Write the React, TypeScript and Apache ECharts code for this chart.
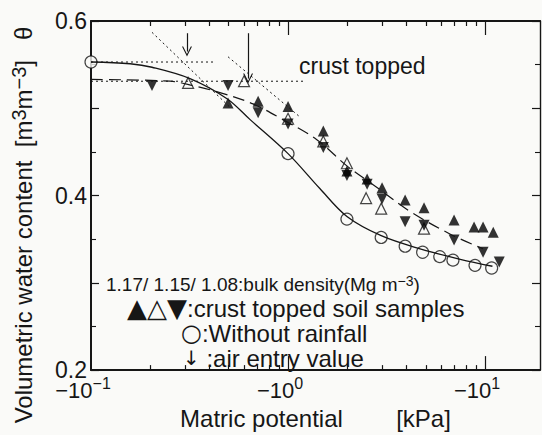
import React, { useEffect, useRef } from 'react';
import * as echarts from 'echarts';

const FONT = '"Liberation Sans", Arial, Helvetica, sans-serif';
const SYMFONT = '"DejaVu Sans", "Liberation Sans", sans-serif';
const INK = '#161616';
const BG = '#fafaf8';

// |matric potential| in kPa (axis shows -10^k) and volumetric water content θ
const rainfreeX = [0.1, 1.0, 1.99, 2.97, 3.93, 4.82, 5.89, 6.87, 8.89, 10.8];
const rainfreeY = [0.553, 0.448, 0.373, 0.352, 0.342, 0.335, 0.33, 0.326, 0.32, 0.317];

const bd117X = [0.496, 0.705, 1.0, 1.51, 1.99, 2.52, 3.0, 3.93, 4.9, 6.96, 8.79, 9.77, 11.0];
const bd117Y = [0.506, 0.508, 0.502, 0.474, 0.428, 0.419, 0.409, 0.395, 0.386, 0.372, 0.364, 0.364, 0.358];

const bd115X = [0.311, 0.598, 1.0, 1.51, 1.99, 2.49, 2.97, 4.9];
const bd115Y = [0.529, 0.531, 0.488, 0.462, 0.437, 0.397, 0.385, 0.362];

const bd108X = [0.204, 0.496, 0.705, 1.0, 1.51, 1.99, 2.52, 3.0, 3.93, 4.9, 6.96, 9.77, 11.8];
const bd108Y = [0.526, 0.526, 0.495, 0.482, 0.455, 0.423, 0.413, 0.396, 0.37, 0.366, 0.349, 0.335, 0.324];

const fitRainfreeX = [0.1, 0.158, 0.204, 0.318, 0.49, 0.642, 1.0, 1.45, 1.99, 2.97, 4.68, 7.48, 10.9];
const fitRainfreeY = [0.553, 0.551, 0.547, 0.534, 0.511, 0.487, 0.448, 0.408, 0.376, 0.354, 0.339, 0.327, 0.319];

const fitCrustX = [0.1, 0.252, 0.329, 0.451, 0.664, 0.941, 1.4, 1.99, 2.84, 4.15, 6.63, 9.77];
const fitCrustY = [0.533, 0.531, 0.526, 0.518, 0.505, 0.487, 0.464, 0.434, 0.409, 0.382, 0.356, 0.339];

const satRainfreeX = [0.1, 0.421];
const satRainfreeY = [0.553, 0.553];
const satCrustX = [0.1, 1.21];
const satCrustY = [0.531, 0.531];
const tangentRainfreeX = [0.204, 0.508];
const tangentRainfreeY = [0.587, 0.501];
const tangentCrustX = [0.496, 1.15];
const tangentCrustY = [0.559, 0.49];

const airEntryX = [0.307, 0.627];
const airEntryTop = [0.586, 0.586];
const airEntryTip = [0.565, 0.534];

const X_MIN = 0.1;
const X_MAX = 19;
const xMajorTicks = [1, 10];
const xMinorTicks = [0.2, 0.3, 0.4, 0.5, 0.6, 0.7, 0.8, 0.9, 2, 3, 4, 5, 6, 7, 8, 9];
const yLabelled = [0.2, 0.4, 0.6];

const pairs = (xs: number[], ys: number[]) => xs.map((x, i) => [x, ys[i]]);
const log10s = (xs: number[]) => xs.map((v) => Math.log10(v));

const supRich = {
  m: { fontSize: 22, lineHeight: 30, fontFamily: FONT, color: INK },
  s: { fontSize: 16, lineHeight: 14, verticalAlign: 'top', fontFamily: FONT, color: INK },
};

const CHEVRON = 'path://M0,10 L5,0 L10,10 L8.8,10 L5,2.6 L1.2,10 Z';

export default function App() {
  const ref = useRef<HTMLDivElement>(null);
  useEffect(() => {
    const chart = echarts.init(ref.current!, null, { renderer: 'svg' });

    // tick decoration axes in decades (same extent as the log axis)
    const tickAxis = (pos: string, values: number[], len: number, showLine: boolean) => ({
      type: 'value',
      position: pos,
      min: Math.log10(X_MIN),
      max: Math.log10(X_MAX),
      splitLine: { show: false },
      axisLine: { show: showLine, onZero: false, lineStyle: { color: INK, width: 2 } },
      axisTick: { show: true, inside: true, length: len, customValues: log10s(values), lineStyle: { color: INK, width: 1.2 } },
      axisLabel: { show: false },
      silent: true,
    });

    const yBase = (pos: string, labels: boolean) => ({
      type: 'value',
      position: pos,
      min: 0.2,
      max: 0.6,
      interval: 0.1,
      splitLine: { show: false },
      axisLine: { show: true, onZero: false, lineStyle: { color: INK, width: pos === 'left' ? 2 : 1.4 } },
      axisTick: { show: true, inside: true, length: 8, lineStyle: { color: INK, width: 1.2 } },
      minorTick: { show: true, splitNumber: 2, length: 5, lineStyle: { color: INK, width: 1.1 } },
      axisLabel: labels
        ? {
            show: true,
            margin: 4,
            fontSize: 23,
            fontFamily: FONT,
            color: INK,
            formatter: (v: number) => (yLabelled.some((t) => Math.abs(t - v) < 1e-6) ? v.toFixed(1) : ''),
          }
        : { show: false },
    });

    const option: any = {
      animation: false,
      backgroundColor: BG,
      grid: { left: 91, top: 21, width: 449, height: 359, containLabel: false },
      xAxis: [
        {
          type: 'log',
          logBase: 10,
          min: X_MIN,
          max: X_MAX,
          position: 'bottom',
          splitLine: { show: false },
          axisLine: { show: true, onZero: false, lineStyle: { color: INK, width: 2 } },
          axisTick: { show: false },
          axisLabel: {
            show: true,
            showMaxLabel: false,
            margin: 5,
            padding: [0, 16, 0, 0],
            formatter: (v: number) => {
              const l = Math.log10(v);
              const k = Math.round(l);
              if (Math.abs(l - k) > 1e-6) return '';
              return '{m|−10}{s|' + (k < 0 ? '−' + Math.abs(k) : String(k)) + '}';
            },
            rich: supRich,
          },
          name: 'Matric potential        [kPa]',
          nameLocation: 'middle',
          nameGap: 29,
          nameTextStyle: { fontSize: 24, fontFamily: FONT, color: INK },
        },
        tickAxis('bottom', xMajorTicks, 14, false),
        tickAxis('bottom', xMinorTicks, 5, false),
        tickAxis('top', xMajorTicks, 14, true),
        tickAxis('top', xMinorTicks, 5, false),
      ],
      yAxis: [yBase('left', true), yBase('right', false)],
      series: [
        {
          name: 'sat rainfree',
          type: 'line',
          data: pairs(satRainfreeX, satRainfreeY),
          symbol: 'none',
          lineStyle: { color: INK, width: 1, type: [2, 3] },
          silent: true,
        },
        {
          name: 'sat crust',
          type: 'line',
          data: pairs(satCrustX, satCrustY),
          symbol: 'none',
          lineStyle: { color: INK, width: 1, type: [2, 3] },
          silent: true,
        },
        {
          name: 'tangent rainfree',
          type: 'line',
          data: pairs(tangentRainfreeX, tangentRainfreeY),
          symbol: 'none',
          lineStyle: { color: INK, width: 1, type: [2, 3] },
          silent: true,
        },
        {
          name: 'tangent crust',
          type: 'line',
          data: pairs(tangentCrustX, tangentCrustY),
          symbol: 'none',
          lineStyle: { color: INK, width: 1, type: [2, 3] },
          silent: true,
          markLine: {
            silent: true,
            symbol: ['none', CHEVRON],
            symbolSize: [10, 10],
            label: { show: false },
            lineStyle: { color: INK, width: 1.2, type: 'solid' },
            data: airEntryX.map((x, i) => [
              { coord: [x, airEntryTop[i]] },
              { coord: [x, airEntryTip[i]] },
            ]),
          },
        },
        {
          name: 'fit rainfree',
          type: 'line',
          data: pairs(fitRainfreeX, fitRainfreeY),
          smooth: 0.35,
          symbol: 'none',
          lineStyle: { color: INK, width: 1.3 },
          silent: true,
        },
        {
          name: 'fit crust',
          type: 'line',
          data: pairs(fitCrustX, fitCrustY),
          smooth: 0.35,
          symbol: 'none',
          lineStyle: { color: INK, width: 1.2, type: [12, 6] },
          silent: true,
        },
        {
          name: '1.15',
          type: 'scatter',
          data: pairs(bd115X, bd115Y),
          symbol: 'triangle',
          symbolSize: 11,
          itemStyle: { color: BG, borderColor: INK, borderWidth: 1.2 },
          clip: false,
        },
        {
          name: '1.17',
          type: 'scatter',
          data: pairs(bd117X, bd117Y),
          symbol: 'triangle',
          symbolSize: 11,
          itemStyle: { color: '#000' },
          clip: false,
        },
        {
          name: '1.08',
          type: 'scatter',
          data: pairs(bd108X, bd108Y),
          symbol: 'triangle',
          symbolRotate: 180,
          symbolSize: 11,
          itemStyle: { color: '#000' },
          clip: false,
        },
        {
          name: 'Without rainfall',
          type: 'scatter',
          data: pairs(rainfreeX, rainfreeY),
          symbol: 'circle',
          symbolSize: 12,
          itemStyle: { color: BG, borderColor: INK, borderWidth: 1.2 },
          clip: false,
        },
      ],
      graphic: [
        {
          type: 'text',
          x: 23,
          y: 225,
          rotation: Math.PI / 2,
          style: {
            text: '{a|Volumetric water content  [m}{s|3}{a|m}{s|−3}{a|]   θ}',
            align: 'center',
            verticalAlign: 'middle',
            rich: {
              a: { fontSize: 24, lineHeight: 28, fontFamily: FONT, fill: INK },
              s: { fontSize: 20, lineHeight: 14, verticalAlign: 'top', fontFamily: FONT, fill: INK },
            },
          },
        },
        {
          type: 'text',
          x: 299,
          y: 66,
          style: { text: 'crust topped', fontSize: 23, fontFamily: FONT, fill: INK, verticalAlign: 'middle' },
        },
        {
          type: 'text',
          x: 106,
          y: 284,
          style: {
            text: '{a|1.17/ 1.15/ 1.08:bulk density(Mg m}{s|−3}{a|)}',
            verticalAlign: 'middle',
            rich: {
              a: { fontSize: 19, lineHeight: 20, fontFamily: FONT, fill: INK },
              s: { fontSize: 14, lineHeight: 10, verticalAlign: 'top', fontFamily: FONT, fill: INK },
            },
          },
        },
        {
          type: 'text',
          x: 127,
          y: 308,
          style: {
            text: '{t|▲△▼}{a|:crust topped soil samples}',
            verticalAlign: 'middle',
            rich: {
              t: { fontSize: 26, lineHeight: 22, fontFamily: SYMFONT, fill: INK },
              a: { fontSize: 24, lineHeight: 22, fontFamily: FONT, fill: INK },
            },
          },
        },
        {
          type: 'text',
          x: 181,
          y: 333,
          style: {
            text: '{t|○}{a|:Without rainfall}',
            verticalAlign: 'middle',
            rich: {
              t: { fontSize: 24, lineHeight: 22, fontFamily: SYMFONT, fill: INK },
              a: { fontSize: 24, lineHeight: 22, fontFamily: FONT, fill: INK },
            },
          },
        },
        {
          type: 'text',
          x: 183,
          y: 358,
          style: {
            text: '{t|↓}{a| :air entry value}',
            verticalAlign: 'middle',
            rich: {
              t: { fontSize: 20, lineHeight: 22, fontFamily: SYMFONT, fill: INK },
              a: { fontSize: 24, lineHeight: 22, fontFamily: FONT, fill: INK },
            },
          },
        },
      ],
    };
    chart.setOption(option);
    return () => chart.dispose();
  }, []);
  return <div ref={ref} style={{ position: 'fixed', left: 0, top: 0, width: 542, height: 435 }} />;
}
